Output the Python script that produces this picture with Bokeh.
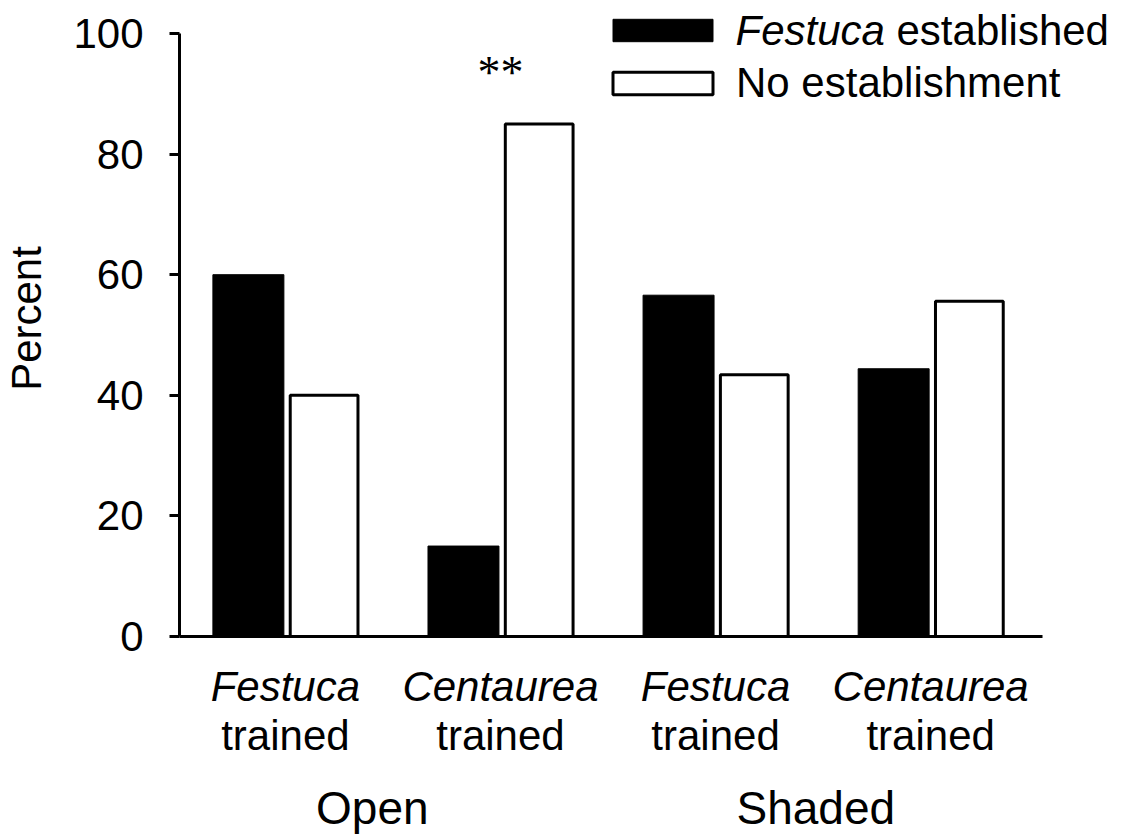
from bokeh.plotting import figure
from bokeh.models import (Range1d, LinearAxis, FixedTicker, Legend, LegendItem,
                          Label, ColumnDataSource)
from bokeh.core.properties import value
from bokeh.embed import file_html
from bokeh.resources import INLINE
import numpy as np

# ---- data ----
conditions = ["Open", "Shaded"]
trained_species = ["Festuca", "Centaurea", "Festuca", "Centaurea"]
trained_word = ["trained", "trained", "trained", "trained"]
established = [60, 15, 56.6, 44.4]
no_establishment = [40, 85, 43.4, 55.6]
y_ticks = [0, 20, 40, 60, 80, 100]
legend_labels = ["Festuca", "established", "No establishment"]
signif_text = "**"
signif_group = 2
signif_y = 93.6

FONT = "Liberation Sans"
FS = "42px"
BLACK = "black"

pos = np.arange(1, len(established) + 1)
X0, X1 = 0.5077, 4.892
Y1 = 105.47

p = figure(width=1122, height=836, output_backend="svg", toolbar_location=None,
           x_range=Range1d(X0, X1), y_range=Range1d(0, Y1),
           min_border_left=178, min_border_right=0, min_border_top=0,
           min_border_bottom=200)
p.grid.visible = False
p.outline_line_color = None
p.background_fill_color = "white"
p.border_fill_color = "white"

src_a = ColumnDataSource(dict(x=pos - 0.172, top=established))
src_b = ColumnDataSource(dict(x=pos + 0.18, top=no_establishment))
r_est = p.vbar(x="x", top="top", width=0.33, bottom=0, source=src_a,
               fill_color=BLACK, line_color=BLACK, line_width=1)
r_no = p.vbar(x="x", top="top", width=0.315, bottom=0, source=src_b,
              fill_color="white", line_color=BLACK, line_width=3)

# significance marker
p.text(x=[signif_group], y=[signif_y], text=[signif_text],
       text_font=value("Liberation Serif"), text_font_size="46px",
       text_align="center", text_baseline="middle", text_color=BLACK)

# y axis
ya = p.yaxis[0]
ya.ticker = FixedTicker(ticks=y_ticks)
ya.bounds = (0, 100)
ya.minor_tick_line_color = None
ya.major_tick_in = 0
ya.major_tick_out = 10
ya.major_tick_line_width = 3
ya.major_tick_line_color = BLACK
ya.axis_line_width = 3
ya.axis_line_color = BLACK
ya.major_label_text_font = FONT
ya.major_label_text_font_size = FS
ya.major_label_text_color = BLACK
ya.major_label_standoff = 26
ya.axis_label = "Percent"
ya.axis_label_text_font = FONT
ya.axis_label_text_font_size = FS
ya.axis_label_text_font_style = "normal"
ya.axis_label_text_color = BLACK
ya.axis_label_standoff = 20

# x axis: species (italic)
xa = p.xaxis[0]
xa.ticker = FixedTicker(ticks=list(pos))
xa.bounds = (X0, 4.52)
xa.major_label_overrides = {int(k): s for k, s in zip(pos, trained_species)}
xa.major_tick_in = 0
xa.major_tick_out = 0
xa.minor_tick_line_color = None
xa.axis_line_width = 3
xa.axis_line_color = BLACK
xa.major_label_text_font = FONT
xa.major_label_text_font_size = FS
xa.major_label_text_font_style = "italic"
xa.major_label_text_color = BLACK
xa.major_label_standoff = 26

# x axis: "trained"
xb = LinearAxis(ticker=FixedTicker(ticks=list(pos)),
                major_label_overrides={int(k): s for k, s in zip(pos, trained_word)})
xb.axis_line_color = None
xb.major_tick_line_color = None
xb.minor_tick_line_color = None
xb.major_tick_in = 0
xb.major_tick_out = 0
xb.major_label_text_font = FONT
xb.major_label_text_font_size = FS
xb.major_label_text_color = BLACK
xb.major_label_standoff = -1
p.add_layout(xb, "below")

# x axis: conditions
cond_pos = [1.404, 3.466]
xc = LinearAxis(ticker=FixedTicker(ticks=cond_pos),
                major_label_overrides={k: s for k, s in zip(cond_pos, conditions)})
xc.axis_line_color = None
xc.major_tick_line_color = None
xc.minor_tick_line_color = None
xc.major_tick_in = 0
xc.major_tick_out = 0
xc.major_label_text_font = FONT
xc.major_label_text_font_size = "46px"
xc.major_label_text_color = BLACK
xc.major_label_standoff = 20
p.add_layout(xc, "below")

# legend (swatches + second label)
legend = Legend(items=[LegendItem(label="\u00a0", renderers=[r_est]),
                       LegendItem(label=legend_labels[2], renderers=[r_no])],
                location=(421, 529), orientation="vertical",
                glyph_width=125, glyph_height=28, label_standoff=11,
                label_text_font=FONT, label_text_font_size=FS,
                label_text_color=BLACK,
                padding=0, margin=0, spacing=5,
                border_line_color=None, background_fill_alpha=0)
p.add_layout(legend, "center")

# first legend label with mixed styles
lab1 = Label(x=556, y=606, x_units="screen", y_units="screen",
             text=legend_labels[0], text_font=FONT, text_font_size=FS,
             text_font_style="italic", text_baseline="middle", text_color=BLACK)
lab2 = Label(x=556 + 161, y=606, x_units="screen", y_units="screen",
             text=legend_labels[1], text_font=FONT, text_font_size=FS,
             text_baseline="middle", text_color=BLACK)
p.add_layout(lab1)
p.add_layout(lab2)

open("out.html", "w").write(file_html(p, INLINE))
